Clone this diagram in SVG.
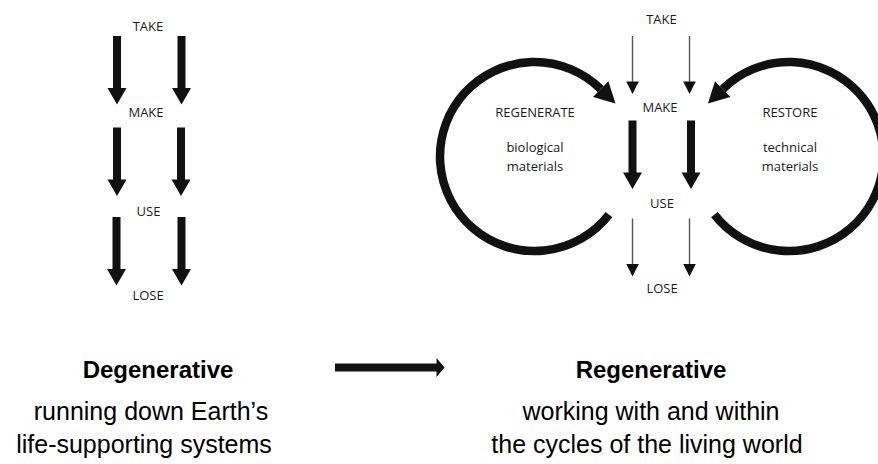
<svg xmlns="http://www.w3.org/2000/svg" xmlns:xlink="http://www.w3.org/1999/xlink" width="878" height="464" viewBox="0 0 878 464">
<style>
.lbl{font-family:"Open Sans","Noto Sans",sans-serif;font-size:13px;fill:#1a1a1a;text-anchor:middle}
.title{font-family:"Liberation Sans",Arial,sans-serif;font-size:24px;font-weight:bold;fill:#000;text-anchor:middle}
.body{font-family:"Liberation Sans",Arial,sans-serif;font-size:25px;fill:#000;text-anchor:middle}
.thick{fill:#111}
.thinline{stroke:#555;stroke-width:1.4;fill:none}
.thinhead{fill:#111}
.cycle{fill:none;stroke:#111;stroke-width:8.5}
.cyclehead{fill:#111}
</style>
<defs>
<path id="thickArrow" class="thick" d="M-4,0 h8 v52 h5.5 l-9.5,16.5 l-9.5,-16.5 h5.5 z"/>
<g id="thinArrow">
<path class="thinline" d="M0,0 V47"/>
<path class="thinhead" d="M-6.3,45.5 L6.3,45.5 L0,58 z"/>
</g>
</defs>

<g id="degenerative-diagram">
<g id="d-take"><text class="lbl" x="148" y="31">TAKE</text></g>
<g id="d-make"><text class="lbl" x="146" y="117">MAKE</text></g>
<g id="d-use"><text class="lbl" x="148.5" y="216">USE</text></g>
<g id="d-lose"><text class="lbl" x="148" y="300">LOSE</text></g>
</g>

<g id="regenerative-diagram">
<g id="r-take"><text class="lbl" x="661.5" y="24">TAKE</text></g>
<g id="r-make"><text class="lbl" x="660" y="112">MAKE</text></g>
<g id="r-use"><text class="lbl" x="662" y="208">USE</text></g>
<g id="r-lose"><text class="lbl" x="662" y="293">LOSE</text></g>
<g id="regenerate">
<text class="lbl" x="535" y="117">REGENERATE</text>
<text class="lbl" x="535" y="152">biological</text>
<text class="lbl" x="535" y="171">materials</text>
</g>
<g id="restore">
<text class="lbl" x="790" y="117">RESTORE</text>
<text class="lbl" x="790" y="152">technical</text>
<text class="lbl" x="790" y="171">materials</text>
</g>
</g>

<g id="connectors">
<use xlink:href="#thickArrow" x="117" y="36"/>
<use xlink:href="#thickArrow" x="181.5" y="36"/>
<use xlink:href="#thickArrow" x="117" y="127.5"/>
<use xlink:href="#thickArrow" x="181" y="127.5"/>
<use xlink:href="#thickArrow" x="116.5" y="217"/>
<use xlink:href="#thickArrow" x="181.5" y="217"/>

<use xlink:href="#thinArrow" x="632.5" y="36"/>
<use xlink:href="#thinArrow" x="689.5" y="36"/>
<use xlink:href="#thickArrow" x="632.5" y="120.5"/>
<use xlink:href="#thickArrow" x="691" y="120.5"/>
<use xlink:href="#thinArrow" x="632.5" y="218.5"/>
<use xlink:href="#thinArrow" x="689.5" y="218.5"/>

<path class="cycle" d="M609.0,214.7 A94.5,94.5 0 1 1 600.7,89.1"/>
<path class="cyclehead" d="M593.0,96.9 L608.4,81.3 L615.5,103.6 z"/>
<path class="cycle" d="M714.4,214.7 A94.5,94.5 0 1 0 722.7,89.1"/>
<path class="cyclehead" d="M730.4,96.9 L715.0,81.3 L707.9,103.6 z"/>

<path class="thick" d="M335,363.5 H436.5 V358 L444.5,367.5 L436.5,377 V371.5 H335 z"/>
</g>

<g id="captions">
<g id="cap-degenerative">
<text class="title" x="158" y="378">Degenerative</text>
<text class="body" x="151" y="420">running down Earth’s</text>
<text class="body" x="144" y="453">life-supporting systems</text>
</g>
<g id="cap-regenerative">
<text class="title" x="651" y="378">Regenerative</text>
<text class="body" x="651" y="420">working with and within</text>
<text class="body" x="647" y="453">the cycles of the living world</text>
</g>
</g>
</svg>
